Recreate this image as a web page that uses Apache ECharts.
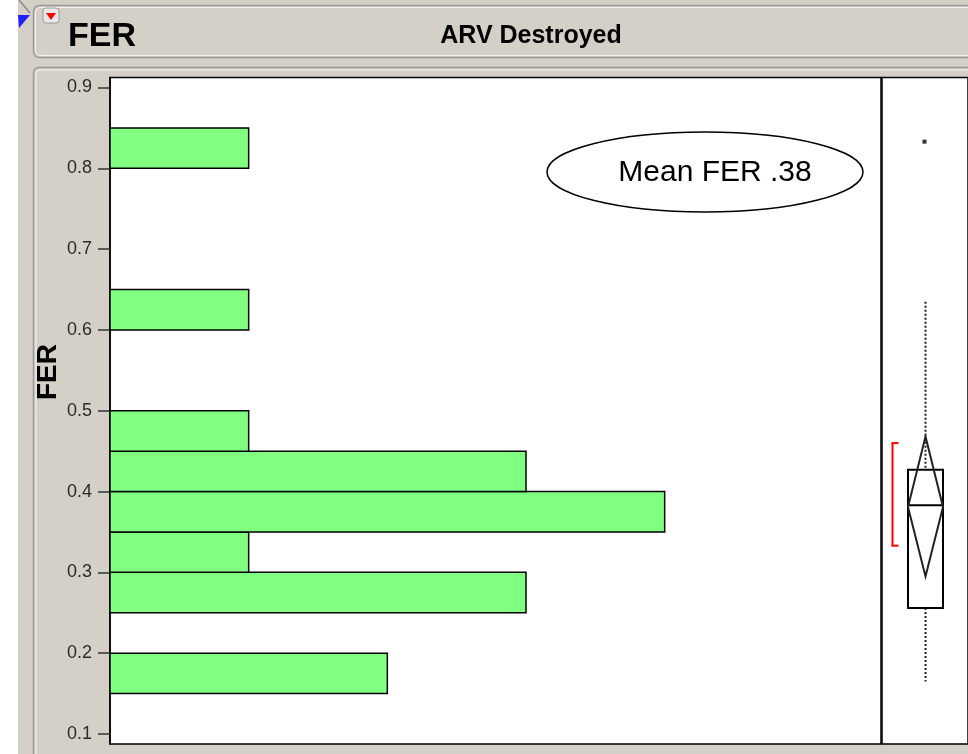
<!DOCTYPE html>
<html>
<head>
<meta charset="utf-8">
<script src="https://cdn.jsdelivr.net/npm/echarts@6/dist/echarts.min.js"></script>
<style>
  html, body { margin: 0; padding: 0; background: #d4d0c8; }
  #chart { width: 968px; height: 754px; }
</style>
</head>
<body>
<div id="chart"></div>
<script>
// histogram bins (FER, width .05) and counts
const binStarts = [0.15, 0.25, 0.30, 0.35, 0.40, 0.45, 0.60, 0.80];
const binCounts = [2, 3, 1, 4, 3, 1, 1, 1];
const binWidth = 0.05;
const yTicks = [0.1, 0.2, 0.3, 0.4, 0.5, 0.6, 0.7, 0.8, 0.9];

// outlier box plot: whisker low, Q1, median, Q3, whisker high
const boxValues = [0.165, 0.256, 0.383, 0.427, 0.635];
const meanValue = 0.381;
const meanCi = [0.295, 0.468];
const shortestHalf = [0.333, 0.460];
const outliers = [0.833];

const FONT = '"Liberation Sans", Arial, sans-serif';

const chart = echarts.init(document.getElementById('chart'));

const histData = binStarts.map((s, i) => [s, +(s + binWidth).toFixed(2), binCounts[i]]);

function renderBar(params, api) {
    const lo = api.value(0), hi = api.value(1), n = api.value(2);
    const a = api.coord([0, hi]);
    const b = api.coord([n, lo]);
    return {
        type: 'rect',
        shape: { x: a[0], y: a[1], width: b[0] - a[0], height: b[1] - a[1] },
        style: { fill: '#80ff80', stroke: '#000', lineWidth: 1.5 }
    };
}

function renderBox(params, api) {
    const cx = api.coord([0, 0])[0];
    const y = v => api.coord([0, v])[1];
    const hw = 17.5; // half box width, px
    const line = (x1, y1, x2, y2, style) => ({ type: 'line', shape: { x1, y1, x2, y2 }, style });
    const solid = { stroke: '#000', lineWidth: 2 };
    const dotted = { stroke: '#222', lineWidth: 2, lineDash: [2, 2] };
    const red = { stroke: '#ff0000', lineWidth: 2 };
    const bx = cx - 33;
    return {
        type: 'group',
        children: [
            line(cx, y(boxValues[4]), cx, y(boxValues[3]), dotted),
            line(cx, y(boxValues[1]), cx, y(boxValues[0]), dotted),
            {
                type: 'rect',
                shape: { x: cx - hw, y: y(boxValues[3]), width: hw * 2, height: y(boxValues[1]) - y(boxValues[3]) },
                style: { fill: null, stroke: '#000', lineWidth: 2 }
            },
            line(cx - hw, y(boxValues[2]), cx + hw, y(boxValues[2]), solid),
            {
                type: 'polygon',
                shape: { points: [[cx, y(meanCi[1])], [cx + hw, y(meanValue)], [cx, y(meanCi[0])], [cx - hw, y(meanValue)]] },
                style: { fill: null, stroke: '#222', lineWidth: 2 }
            },
            line(bx, y(shortestHalf[1]), bx, y(shortestHalf[0]), red),
            line(bx - 1, y(shortestHalf[1]), bx + 6, y(shortestHalf[1]), red),
            line(bx - 1, y(shortestHalf[0]), bx + 6, y(shortestHalf[0]), red)
        ]
    };
}

const option = {
    backgroundColor: '#d4d0c8',
    animation: false,
    grid: [
        { left: 110, top: 77.5, width: 771, height: 666.5, show: true, backgroundColor: '#fff', borderColor: '#000', borderWidth: 1.5 },
        { left: 882, top: 77.5, right: 0, height: 666.5, show: true, backgroundColor: '#fff', borderColor: '#000', borderWidth: 1.5 }
    ],
    xAxis: [
        { type: 'value', gridIndex: 0, min: 0, max: 5.56, show: false },
        { type: 'value', gridIndex: 1, min: -43.5, max: 42.5, show: false }
    ],
    yAxis: [
        {
            type: 'value', gridIndex: 0, min: 0.0876, max: 0.9124,
            splitLine: { show: false },
            axisLine: { show: true, lineStyle: { color: '#000', width: 1.5 } },
            axisTick: { show: true, customValues: yTicks, length: 12, lineStyle: { color: '#333', width: 1.5 } },
            axisLabel: {
                customValues: yTicks, margin: 18, color: '#2a2a2a',
                fontFamily: FONT, fontSize: 18,
                formatter: v => v.toFixed(1)
            }
        },
        { type: 'value', gridIndex: 1, min: 0.0876, max: 0.9124, show: false }
    ],
    series: [
        {
            type: 'custom', xAxisIndex: 0, yAxisIndex: 0,
            renderItem: renderBar,
            encode: { x: 2, y: [0, 1] },
            data: histData
        },
        {
            type: 'custom', xAxisIndex: 1, yAxisIndex: 1,
            renderItem: renderBox,
            data: [[0, boxValues[2]]]
        },
        {
            type: 'scatter', xAxisIndex: 1, yAxisIndex: 1,
            symbol: 'rect', symbolSize: 4,
            itemStyle: { color: '#000' },
            data: outliers.map(v => [-1, v])
        }
    ],
    graphic: [
        { type: 'rect', shape: { x: 0, y: 0, width: 18, height: 754 }, style: { fill: '#fff' }, z: 10 },
        { type: 'line', shape: { x1: 19, y1: 0, x2: 30, y2: 13 }, style: { stroke: '#8a8a8a', lineWidth: 1.5 }, z: 10 },
        { type: 'polygon', shape: { points: [[18, 15], [30, 15], [19, 28]] }, style: { fill: '#1f1fff' }, z: 10 },
        // header panel
        { type: 'rect', shape: { x: 33.5, y: 5.5, width: 1000, height: 52, r: 6 }, style: { fill: '#d4d0c8', stroke: '#9a9a9a', lineWidth: 1.5 }, z: 0 },
        { type: 'rect', shape: { x: 35.5, y: 7.5, width: 1000, height: 48, r: 5 }, style: { fill: null, stroke: '#f4f4f4', lineWidth: 1 }, z: 0 },
        { type: 'rect', shape: { x: 43, y: 8, width: 16, height: 15, r: 3 }, style: { fill: '#e8e8e8', stroke: '#9a9a9a', lineWidth: 1 }, z: 1 },
        { type: 'polygon', shape: { points: [[46, 13], [56, 13], [51, 20]] }, style: { fill: '#ff0000' }, z: 2 },
        { type: 'text', x: 68, y: 37, style: { text: 'FER', fontFamily: FONT, fontSize: 34, fontWeight: 'bold', fill: '#000', textVerticalAlign: 'middle' }, z: 2 },
        { type: 'text', x: 531, y: 36, style: { text: 'ARV Destroyed', fontFamily: FONT, fontSize: 25, fontWeight: 'bold', fill: '#000', textAlign: 'center', textVerticalAlign: 'middle' }, z: 2 },
        // body panel
        { type: 'rect', shape: { x: 33.5, y: 67.5, width: 1000, height: 800, r: 5 }, style: { fill: null, stroke: '#9a9a9a', lineWidth: 1.5 }, z: 0 },
        { type: 'rect', shape: { x: 36, y: 70, width: 1000, height: 800, r: 4 }, style: { fill: null, stroke: '#f4f4f4', lineWidth: 1 }, z: 0 },
        { type: 'text', x: 48, y: 372, rotation: Math.PI / 2, style: { text: 'FER', fontFamily: FONT, fontSize: 28, fontWeight: 'bold', fill: '#000', textAlign: 'center', textVerticalAlign: 'middle' }, z: 2 },
        // annotation
        { type: 'ellipse', shape: { cx: 705, cy: 172, rx: 158, ry: 40 }, style: { fill: '#fff', stroke: '#000', lineWidth: 1.5 }, z: 20 },
        { type: 'text', x: 715, y: 173, style: { text: 'Mean FER .38', fontFamily: FONT, fontSize: 30, fill: '#000', textAlign: 'center', textVerticalAlign: 'middle' }, z: 21 }
    ]
};

chart.setOption(option);
</script>
</body>
</html>
